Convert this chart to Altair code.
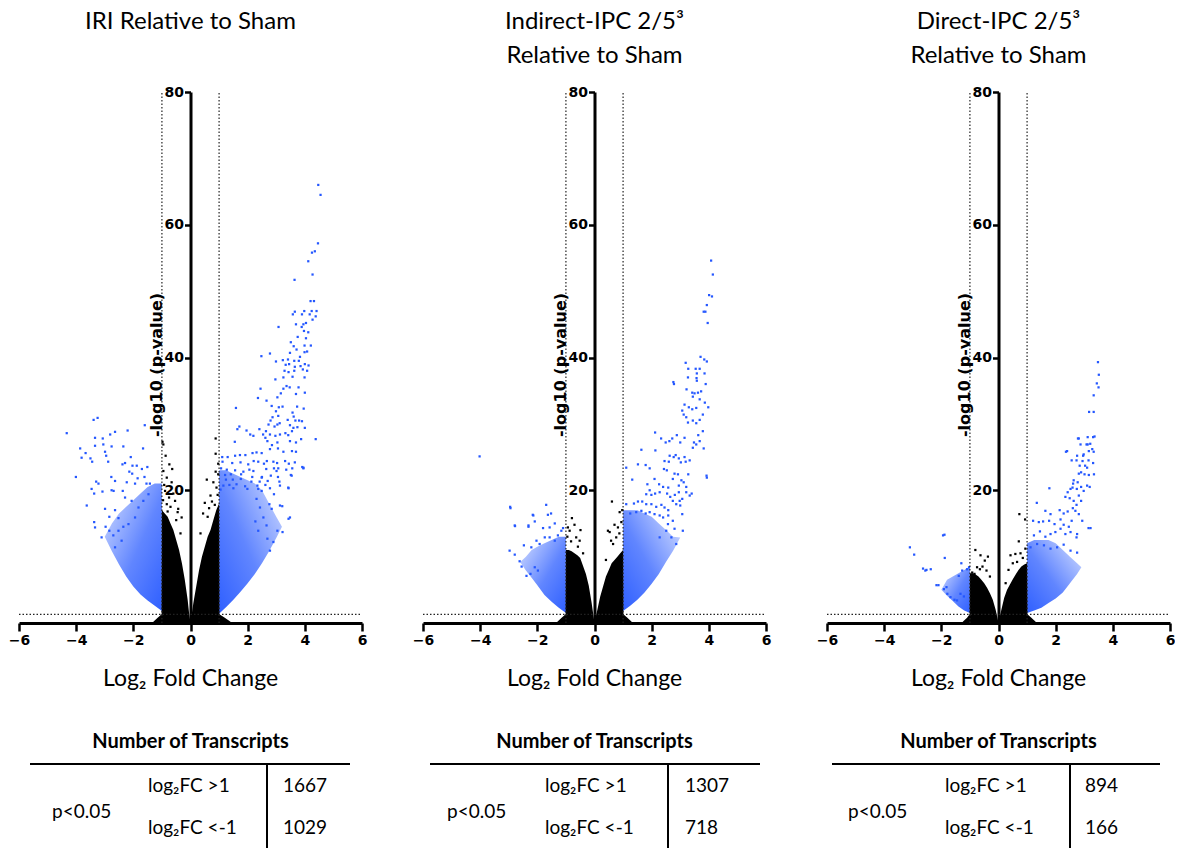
import altair as alt
import pandas as pd

BLUE = "#2457ff"
FONT = "Lato"
TICKFONT = "DejaVu Sans"

titles = [["IRI Relative to Sham"],
          ["Indirect-IPC 2/5\u00b3", "Relative to Sham"],
          ["Direct-IPC 2/5\u00b3", "Relative to Sham"]]
up_counts = ["1667", "1307", "894"]
down_counts = ["1029", "718", "166"]
x_ticks = [-6, -4, -2, 0, 2, 4, 6]
y_ticks = [20, 40, 60, 80]
fc_cut = [-1, 1]
p_cut = 1.3

# ---------------- Panel 1 : IRI ----------------
p1_core_l_x = [-1.3, -1.15, -1.01, -1.0, -0.9, -0.8, -0.7, -0.6, -0.5, -0.4, -0.3, -0.2, -0.1, -0.05, 0.0]
p1_core_l_y = [0.2, 0.8, 1.3, 17, 16.5, 16, 15, 14, 12.5, 11, 9, 6.5, 3.5, 1.5, 0]
p1_core_r_x = [0.0, 0.05, 0.1, 0.2, 0.3, 0.4, 0.5, 0.6, 0.7, 0.8, 0.9, 1.0, 1.01, 1.2, 1.4]
p1_core_r_y = [0, 1.5, 3, 5.5, 8, 10, 11.5, 13, 14, 15.5, 17, 18, 1.3, 0.8, 0.2]
p1_band_r_x = [1.0, 1.25, 1.5, 1.75, 2.0, 2.25, 2.5, 2.75, 3.0, 3.2]
p1_band_r_lo = [1.4, 2.4, 3.5, 4.7, 6.0, 7.4, 9.0, 10.8, 12.8, 14.5]
p1_band_r_hi = [23, 23, 22.5, 22, 21.5, 21, 20, 18, 16, 14.5]
p1_band_l_x = [-3.0, -2.75, -2.5, -2.25, -2.0, -1.75, -1.5, -1.25, -1.0]
p1_band_l_lo = [13, 10.8, 8.8, 7.0, 5.5, 4.3, 3.4, 2.6, 1.8]
p1_band_l_hi = [13, 15, 16.5, 17.5, 18.5, 19.5, 20.5, 21, 21]
p1_blue_x = [4.47, 4.55, 4.46, 4.35, 4.25, 4.12, 4.27, 3.64, 4.20, 4.32, 3.58, 3.65, 3.98, 4.24, 4.41, 3.90, 4.17, 4.38,
             4.27, 3.69, 4.04, 3.95, 3.08, 3.89, 3.97, 4.12, 3.75, 4.04, 3.51, 3.61, 3.99, 4.21, 3.71, 2.78, 3.48, 3.83,
             3.99, 4.08, 2.48, 2.99, 3.23, 3.41, 3.63, 3.79, 3.33, 3.45, 3.65, 3.85, 4.0, 4.13, 3.29, 3.43, 3.63, 3.93,
             4.08, 3.25, 3.57, 3.99, 2.97, 3.36, 3.47, 3.78, 2.45, 3.25, 3.69, 4.0, 2.36, 2.66, 3.04, 3.16, 2.84, 3.09,
             3.22, 1.59, 3.73, 3.96, 2.99, 3.07, 3.57, 3.61, 2.87, 2.80, 2.73, 3.12, 3.40, 3.67, 3.80, 3.90, 2.94, 3.04,
             3.48, 3.60, 3.74, 1.71, 1.64, 1.96, 2.09, 2.41, 2.20, 2.64, 1.55, 4.0, 4.38, 2.54, 2.62, 2.78, 2.97, 3.13,
             3.32, 3.42, 3.55, 2.69, 2.85, 3.04, 3.48, 3.69, 3.87,
             1.11, 1.30, 1.56, 1.73, 1.92, 2.17, 2.31, 2.49, 2.78, 3.06, 3.25, 3.55, 3.69,
             1.12, 1.46, 1.75, 2.02, 2.21, 2.37, 2.57, 2.67, 2.90, 3.03, 3.31, 3.44, 3.65,
             1.07, 1.27, 1.56, 1.85, 2.06, 2.20, 2.65, 2.92, 3.07, 3.35, 3.56, 3.95,
             1.21, 1.41, 1.77, 2.16, 2.50, 2.81, 3.06, 3.51,
             1.24, 1.48, 1.76, 2.13, 2.42, 2.70, 3.11,
             1.15, 1.36, 1.61, 1.91, 2.34, 2.62, 3.13, 3.43,
             1.05, 1.50, 1.99, 2.37, 2.78,
             3.48, 3.22, 3.04, 2.90, 3.13, 3.42, 3.54, 2.78, 2.69, 2.43, 2.49, 3.01, 2.66, 2.37, 2.55, 2.27, 2.84, 2.76,
             2.92, 2.49, 2.31, 3.43, 3.21, 3.91, 3.95,
             -3.39, -3.25, -4.33, -1.60, -2.64, -2.81, -2.20, -3.34, -3.07, -3.86, -3.67, -3.81, -3.50, -3.44, -2.76,
             -2.35, -1.66, -3.34, -3.05, -2.99, -2.95, -2.88, -2.09, -2.38, -2.29, -2.03, -1.88, -1.70, -1.51, -4.01,
             -3.30, -3.22, -3.08, -3.46, -3.37, -2.77, -2.64, -2.76, -2.69, -2.37, -2.14, -2.04, -1.85, -2.23, -1.94,
             -1.61, -1.54, -1.42, -3.63, -3.37, -3.34, -2.97, -3.11, -2.84, -2.70, -2.99, -2.84, -2.64, -2.52, -2.35,
             -2.29, -2.06, -1.82, -1.65, -1.47, -1.94, -2.17, -2.52, -2.41, -2.64]
p1_blue_y = [66.0, 64.5, 57.2, 56.0, 55.8, 54.5, 52.5, 51.7, 48.5, 48.5, 46.5, 46.9, 47.0, 47.0, 47.0, 46.5, 46.5, 46.2,
             45.7, 45.0, 45.2, 45.0, 44.6, 44.6, 44.0, 43.8, 43.1, 42.9, 42.3, 41.7, 41.8, 41.8, 41.2, 40.6, 40.7, 40.1,
             40.8, 40.9, 40.2, 39.4, 39.6, 39.7, 39.5, 39.5, 38.9, 39.0, 38.6, 38.7, 39.0, 38.8, 38.0, 37.8, 38.0, 38.2,
             38.0, 37.0, 37.1, 37.0, 36.7, 35.7, 35.5, 35.5, 35.3, 35.3, 34.5, 34.7, 33.9, 33.5, 34.0, 34.6, 32.7, 32.5,
             32.6, 32.4, 32.6, 32.3, 31.9, 31.2, 31.7, 31.1, 31.0, 30.5, 29.9, 30.1, 30.6, 30.5, 30.5, 30.4, 29.6, 29.9,
             29.8, 29.4, 29.5, 29.6, 29.2, 29.0, 28.4, 29.2, 28.2, 28.9, 27.3, 29.4, 27.7, 28.4, 27.9, 28.4, 28.2, 28.4,
             28.6, 28.3, 28.9, 27.4, 26.8, 27.2, 27.4, 27.2, 27.7,
             25.0, 25.0, 25.2, 25.3, 25.3, 25.6, 25.7, 25.6, 26.2, 26.3, 25.8, 25.9, 25.8,
             24.3, 24.1, 24.2, 23.9, 24.4, 24.3, 24.0, 24.4, 24.3, 24.1, 24.4, 24.0, 24.2,
             23.3, 23.1, 23.0, 22.8, 23.1, 22.9, 23.2, 23.3, 23.3, 23.1, 23.3, 23.3,
             22.3, 22.4, 22.4, 22.0, 22.0, 22.2, 22.0, 22.3,
             21.6, 21.6, 21.7, 21.3, 21.3, 21.4, 21.3,
             20.7, 20.8, 20.9, 20.6, 20.7, 20.8, 20.7, 20.3,
             20.1, 20.3, 20.2, 20.2, 20.3,
             15.9, 13.7, 13.9, 12.2, 17.7, 20.4, 22.2, 10.9, 12.7, 17.4, 21.9, 22.9, 14.7, 13.9, 15.9, 15.3, 17.2, 17.9,
             19.4, 19.9, 18.7, 15.7, 17.6, 23.5, 23.4,
             30.6, 30.9, 28.6, 29.8, 28.8, 28.4, 29.0, 27.9, 27.8, 26.3, 25.6, 24.9, 24.8, 24.3, 26.6,
             26.6, 26.3, 26.7, 26.9, 25.8, 25.2, 24.3, 25.0, 23.9, 24.1, 23.7, 23.7, 23.2, 23.5, 22.0,
             21.3, 21.0, 19.8, 20.2, 19.5, 22.0, 21.4, 20.0, 19.9, 19.9, 22.8, 22.5, 21.8, 21.2, 21.0,
             22.0, 21.0, 21.0, 17.7, 15.2, 14.4, 14.5, 12.9, 13.9, 13.2, 17.2, 16.0, 17.0, 15.8, 14.5,
             18.9, 18.4, 17.4, 18.4, 19.4, 15.9, 14.9, 13.9, 12.4, 11.4]
p1_black_x = [-0.98, -0.95, -0.87, -0.74, -0.64, -0.95, -0.83, -0.66, -0.89, -0.54, -0.75, -0.43, -0.83, -0.31, -0.45,
              -0.60, -0.92, -0.70, -0.50, -0.35, -0.96, -0.80,
              0.88, 0.88, 0.88, 0.57, 0.97, 0.80, 0.91, 0.70, 0.50, 0.65, 0.44, 0.95, 0.60, 0.35, 0.75, 0.85, 0.97]
p1_black_y = [27.3, 26.9, 25.2, 23.9, 23.2, 22.9, 21.9, 21.2, 19.9, 18.4, 18.9, 17.2, 17.9, 15.9, 16.7,
              19.5, 20.8, 17.5, 15.5, 13.5, 18.5, 16.8,
              27.8, 25.5, 22.8, 21.6, 22.4, 21.2, 20.4, 19.2, 18.1, 17.3, 16.5, 19.3, 16.0, 13.5, 18.3, 17.8, 24.0]

# ---------------- Panel 2 : Indirect-IPC ----------------
p2_core_l_x = [-1.3, -1.15, -1.01, -1.0, -0.9, -0.8, -0.7, -0.6, -0.5, -0.4, -0.3, -0.2, -0.1, -0.05, 0.0]
p2_core_l_y = [0.2, 0.8, 1.3, 11, 11, 10.8, 10.5, 10.2, 9.8, 8.6, 7.4, 5.6, 3, 1.5, 0]
p2_core_r_x = [0.0, 0.05, 0.1, 0.2, 0.3, 0.4, 0.5, 0.6, 0.7, 0.8, 0.9, 1.0, 1.01, 1.15, 1.3]
p2_core_r_y = [0, 1, 2, 4, 5.5, 7, 8, 9, 9.5, 10, 10.5, 11, 1.3, 0.8, 0.2]
p2_band_r_x = [1.0, 1.25, 1.5, 1.75, 2.0, 2.25, 2.5, 2.75, 3.0]
p2_band_r_lo = [1.8, 2.6, 3.5, 4.6, 5.9, 7.4, 9.2, 10.9, 12.9]
p2_band_r_hi = [17, 17, 17, 16.5, 16, 15, 14, 13, 12.9]
p2_band_l_x = [-2.6, -2.4, -2.2, -2.0, -1.75, -1.5, -1.25, -1.0]
p2_band_l_lo = [9.2, 7.9, 6.8, 5.7, 4.2, 3.2, 2.3, 1.5]
p2_band_l_hi = [9.2, 10, 11, 11.5, 12, 12.5, 13, 13]
p2_blue_x = [4.08, 4.14, 4.01, 4.11, 3.93, 3.82, 3.88, 3.96, 2.76, 3.92,
             3.71, 3.84, 3.93, 3.19, 3.28, 3.54, 3.68, 3.58, 3.85, 3.57, 3.58, 3.27, 2.78, 3.89, 3.22, 3.42, 3.50, 3.62,
             3.73, 3.44, 3.68, 3.86, 3.98, 3.15, 3.30, 3.42, 3.56, 3.07, 3.12, 3.21, 3.27, 3.44, 3.56, 3.68, 3.79, 3.79,
             3.63, 3.48, 3.56, 3.68, 3.44, 2.12, 2.33, 2.49, 2.62, 2.72, 2.88, 3.00, 3.15, 2.13, 1.64, 3.82, 2.63, 2.77,
             2.84, 2.95, 3.15, 2.45, 2.60, 3.02, 3.19, 3.33, 1.11, 1.52, 1.79, 1.93, 2.43, 2.53, 1.32, 3.93,
             2.10, 2.26, 2.40, 2.58, 2.74, 2.80, 2.92, 3.04, 2.95, 3.12, 3.21, 3.28,
             1.85, 1.93, 1.81, 1.99, 2.12, 2.28, 2.54, 2.65, 2.74, 2.81, 2.95, 2.98, 3.07, 3.21, 3.33, 3.40,
             1.38, 1.52, 1.67, 1.81, 1.99, 2.16, 2.34, 2.45, 2.58, 2.86, 3.00,
             1.11, 1.25, 1.46, 1.64, 1.79, 1.93, 2.10, 2.28, 2.40, 2.58, 2.74, 3.07, 3.09,
             2.51, 2.69, 2.86, 2.28, 2.57, 2.80,
             -4.02, -2.95, -1.69, -2.79, -2.16, -2.31, -2.97, -2.79, -1.52, -1.63, -2.94, -2.14, -2.78, -2.31, -2.09,
             -1.80, -1.57, -1.39, -1.16, -1.10, -2.62, -2.55, -2.47, -2.21, -2.03, -1.92, -1.74, -1.57, -1.39, -1.28,
             -2.38, -2.24, -2.09, -1.98]
p2_blue_y = [54.6, 52.5, 49.4, 49.2, 47.9, 46.9, 46.9, 45.2, 36.3, 22.2,
             40.1, 39.7, 39.4, 39.2, 38.3, 38.3, 38.3, 37.6, 37.6, 36.9, 36.5, 37.0, 36.0, 36.0, 35.2, 34.7, 34.6, 34.7,
             34.9, 34.1, 33.7, 33.2, 32.5, 32.9, 32.5, 32.2, 32.4, 32.0, 31.4, 31.0, 30.2, 30.5, 30.1, 30.6, 31.4, 28.9,
             28.3, 27.2, 26.9, 27.4, 26.4, 28.7, 27.8, 27.2, 27.4, 27.8, 28.3, 27.2, 27.9, 26.0, 26.1, 26.3, 25.2, 25.0,
             25.3, 24.8, 25.0, 24.4, 24.3, 24.2, 24.3, 24.5, 23.4, 23.9, 23.8, 23.3, 23.2, 23.0, 21.6, 21.9,
             21.7, 20.9, 20.5, 20.4, 21.7, 22.5, 22.4, 21.5, 20.7, 21.2, 20.5, 22.4,
             20.9, 20.0, 19.4, 19.3, 19.5, 19.7, 19.5, 19.0, 18.4, 19.3, 19.7, 18.4, 18.7, 19.7, 19.2, 19.5,
             18.0, 18.3, 18.3, 17.9, 17.9, 17.5, 17.8, 17.4, 17.0, 17.9, 17.7,
             17.9, 16.5, 16.7, 16.9, 16.5, 16.7, 16.4, 16.2, 15.9, 16.2, 15.4, 16.4, 13.9,
             13.9, 12.9, 11.9, 12.9, 14.9, 14.2,
             25.1, 17.5, 17.8, 14.7, 16.3, 14.7, 10.9, 10.3, 16.5, 16.3, 17.3, 16.2, 14.6, 14.5, 15.3,
             14.3, 14.4, 15.0, 13.9, 14.3, 9.3, 8.5, 11.7, 11.4, 12.4, 11.9, 12.9, 12.9, 12.4, 13.2,
             7.1, 7.4, 8.4, 7.9]
p2_black_x = [0.61, 0.88, 0.47, 0.82, 0.58, 0.87, 0.94, 0.76, 0.65, 0.53, 0.40, 0.97, 0.70,
              -0.79, -0.49, -0.93, -0.87, -0.64, -0.52, -0.70, -0.95, -0.40, -0.58, -0.82]
p2_black_y = [18.3, 16.7, 13.9, 14.4, 12.4, 13.5, 15.2, 12.9, 11.9, 13.7, 9.5, 17.0, 14.8,
              15.8, 14.0, 14.4, 13.9, 12.9, 12.4, 14.8, 13.0, 10.5, 11.5, 12.3]

# ---------------- Panel 3 : Direct-IPC ----------------
p3_core_l_x = [-1.25, -1.1, -1.01, -1.0, -0.9, -0.8, -0.7, -0.6, -0.5, -0.4, -0.3, -0.2, -0.1, -0.05, 0.0]
p3_core_l_y = [0.2, 0.8, 1.3, 7.5, 7.5, 7.3, 7, 6.5, 6, 5.3, 4.5, 3.5, 2, 1, 0]
p3_core_r_x = [0.0, 0.05, 0.1, 0.2, 0.3, 0.4, 0.5, 0.6, 0.7, 0.8, 0.9, 1.0, 1.01, 1.15, 1.3]
p3_core_r_y = [0, 1, 2, 3.8, 5, 5.8, 6.6, 7.3, 8, 8.5, 8.8, 9, 1.3, 0.8, 0.2]
p3_band_r_x = [1.0, 1.25, 1.5, 1.75, 2.0, 2.25, 2.5, 2.75, 2.9]
p3_band_r_lo = [1.5, 1.9, 2.3, 3.0, 3.7, 4.6, 6.0, 7.4, 8.4]
p3_band_r_hi = [12, 12.5, 12.5, 12.5, 12, 11, 10, 9, 8.4]
p3_band_l_x = [-2.0, -1.8, -1.6, -1.4, -1.2, -1.0]
p3_band_l_lo = [5.0, 4.1, 3.3, 2.5, 1.9, 1.5]
p3_band_l_hi = [5.0, 6.5, 7.0, 7.5, 8.0, 8.5]
p3_blue_x = [3.48, 3.51, 3.44, 3.50, 3.33, 3.17, 3.33, 3.31, 2.78, 3.12, 2.36, 1.78, 3.15, 1.34,
             3.36, 3.12, 2.81, 2.87, 3.08, 3.21, 3.28, 3.16, 3.33, 2.98, 2.96, 2.75, 2.40, 2.56, 2.73, 2.94, 3.15, 3.31,
             3.03, 2.84, 3.10, 2.89, 3.01, 3.16, 3.34, 2.81,
             2.63, 2.61, 2.77, 2.59, 2.74, 2.89, 2.98, 3.10, 3.19,
             2.42, 2.52, 2.34, 2.49, 2.63, 2.81, 2.89, 2.73,
             1.64, 1.82, 2.14, 2.28, 2.42, 2.60, 2.69, 2.81, 2.93,
             1.21, 1.41, 1.56, 1.77, 1.96, 2.17, 2.28, 2.46, 2.56,
             3.22, 2.75, 2.73, 2.75,
             1.24, 1.45, 1.64, 1.82, 1.99, 2.17, 2.34, 2.52,
             1.12, 1.35, 1.59, 1.82, 2.05, 2.28, 2.52,
             -3.10, -2.95, -1.94, -1.88, -2.64, -2.56, -2.37, -2.17, -1.82, -1.30, -1.89, -2.52,
             -1.39, -1.27, -1.10, -1.03, -1.79, -1.68, -1.54, -1.45, -1.33, -1.21, -2.10, -1.91]
p3_blue_y = [39.3, 37.4, 36.1, 35.5, 34.3, 31.8, 31.8, 28.0, 27.8, 26.9, 25.8, 20.3, 14.3, 18.1,
             28.1, 28.0, 27.8, 26.9, 26.9, 27.0, 26.2, 25.9, 25.8, 25.4, 25.2, 25.2, 25.9, 24.5, 24.5, 24.4, 24.5, 24.1,
             23.7, 23.7, 23.4, 22.7, 22.4, 22.3, 22.4, 22.5,
             21.5, 21.0, 21.2, 20.4, 20.2, 20.5, 19.9, 20.7, 20.5,
             19.7, 20.2, 19.0, 18.8, 18.4, 19.2, 18.4, 17.8,
             16.9, 16.4, 17.0, 16.5, 16.8, 17.3, 16.9, 16.4, 15.4,
             15.4, 15.2, 15.3, 15.4, 14.9, 15.6, 14.8, 14.5, 15.4,
             14.3, 13.4, 12.9, 10.6,
             13.2, 13.8, 13.0, 13.4, 13.7, 14.2, 13.4, 13.7,
             11.4, 11.9, 11.7, 11.2, 11.4, 11.8, 10.9,
             11.4, 10.3, 13.2, 9.8, 8.2, 7.9, 8.1, 5.7, 5.4, 9.0, 13.3, 8.0,
             7.1, 7.9, 8.1, 8.4, 4.4, 3.9, 3.5, 3.4, 4.4, 4.0, 5.7, 5.1]
p3_black_x = [0.73, 0.71, 0.93, 0.77, 0.42, 0.59, 0.94, 0.50, 0.85, 0.35, 0.65, 0.25,
              -0.81, -0.63, -0.37, -0.48, -0.75, -0.65, -0.56, -0.42, -0.84, -0.92, -0.30]
p3_black_y = [16.4, 12.3, 15.6, 10.5, 10.2, 10.4, 11.2, 9.0, 9.8, 8.0, 9.2, 6.0,
              11.0, 10.2, 10.0, 9.4, 8.4, 8.1, 8.5, 7.9, 7.4, 7.6, 7.0]

panels = [
    dict(core=[(p1_core_l_x, p1_core_l_y), (p1_core_r_x, p1_core_r_y)],
         band=[(p1_band_l_x, p1_band_l_lo, p1_band_l_hi), (p1_band_r_x, p1_band_r_lo, p1_band_r_hi)],
         blue=(p1_blue_x, p1_blue_y), black=(p1_black_x, p1_black_y)),
    dict(core=[(p2_core_l_x, p2_core_l_y), (p2_core_r_x, p2_core_r_y)],
         band=[(p2_band_l_x, p2_band_l_lo, p2_band_l_hi), (p2_band_r_x, p2_band_r_lo, p2_band_r_hi)],
         blue=(p2_blue_x, p2_blue_y), black=(p2_black_x, p2_black_y)),
    dict(core=[(p3_core_l_x, p3_core_l_y), (p3_core_r_x, p3_core_r_y)],
         band=[(p3_band_l_x, p3_band_l_lo, p3_band_l_hi), (p3_band_r_x, p3_band_r_lo, p3_band_r_hi)],
         blue=(p3_blue_x, p3_blue_y), black=(p3_black_x, p3_black_y)),
]

# layout constants (pixels relative to each plot's top-left corner)
W, H = 343, 531
AXIS_X = W / 2
table_layout = [dict(fc=129, num=264, p=33, v=248, h=(11, 331)),
                dict(fc=122, num=262, p=24, v=245, h=(7, 337)),
                dict(fc=118, num=258, p=21, v=243, h=(5, 333))]

ONE = pd.DataFrame({"d": [0]})

x_axis = alt.Axis(values=x_ticks, title=None, grid=False, domainWidth=3, domainColor="black",
                  tickWidth=2.5, tickSize=8, tickColor="black", labelFont=TICKFONT, labelFontSize=14,
                  labelFontWeight="bold", labelColor="black", labelPadding=2, labelFlush=False)
y_axis = alt.Axis(values=y_ticks, title=None, grid=False, offset=-AXIS_X, domainWidth=3,
                  domainColor="black", tickWidth=2.5, tickSize=6, tickColor="black", labelFont=TICKFONT,
                  labelFontSize=14, labelFontWeight="bold", labelColor="black", labelPadding=1)
xs = alt.Scale(domain=[-6, 6], nice=False, zero=False)
ys = alt.Scale(domain=[0, 80], nice=False, zero=False)


def X(f="x"):
    return alt.X(f + ":Q", scale=xs, axis=x_axis)


def Y(f="y"):
    return alt.Y(f + ":Q", scale=ys, axis=y_axis)


def txt(s, px, py, size, weight="normal", align="center", font=FONT, angle=0):
    return alt.Chart(ONE).mark_text(text=s, fontSize=size, fontWeight=weight, align=align,
                                    baseline="middle", font=font, angle=angle, color="black").encode(
        x=alt.value(px), y=alt.value(py))


def band_fill(right):
    stops = [alt.GradientStop(offset=0, color="rgba(36,87,255,0.95)"),
             alt.GradientStop(offset=0.45, color="rgba(36,87,255,0.72)"),
             alt.GradientStop(offset=1, color="rgba(36,87,255,0.18)")]
    if right:
        return alt.Gradient(gradient="linear", stops=stops, x1=0, y1=1, x2=1, y2=0)
    return alt.Gradient(gradient="linear", stops=stops, x1=1, y1=1, x2=0, y2=0)


def build(i):
    P = panels[i]
    L = table_layout[i]
    layers = []
    for side, (xv, lo, hi) in enumerate(P["band"]):
        df = pd.DataFrame({"x": xv, "lo": lo, "hi": hi})
        layers.append(alt.Chart(df).mark_area(color=band_fill(side == 1)).encode(
            x=X(), y=Y("lo"), y2="hi:Q"))
    for (xv, top) in P["core"]:
        df = pd.DataFrame({"x": xv, "top": top, "zero": [0] * len(xv)})
        layers.append(alt.Chart(df).mark_area(color="black", opacity=1).encode(
            x=X(), y=Y("top"), y2="zero:Q"))
    bdf = pd.DataFrame({"x": P["blue"][0], "y": P["blue"][1]})
    layers.append(alt.Chart(bdf).mark_square(size=5, color=BLUE, opacity=1).encode(x=X(), y=Y()))
    kdf = pd.DataFrame({"x": P["black"][0], "y": P["black"][1]})
    layers.append(alt.Chart(kdf).mark_square(size=5, color="black", opacity=1).encode(x=X(), y=Y()))
    # threshold lines
    vdf = pd.DataFrame({"x": fc_cut, "y": [0, 0], "y2": [80, 80]})
    layers.append(alt.Chart(vdf).mark_rule(color="#222222", strokeWidth=1.2, strokeDash=[1.5, 2]).encode(
        x=X(), y=Y(), y2="y2:Q"))
    hdf = pd.DataFrame({"x": [-6], "x2": [6], "y": [p_cut]})
    layers.append(alt.Chart(hdf).mark_rule(color="#222222", strokeWidth=1.2, strokeDash=[1.5, 2]).encode(
        x=X(), x2="x2:Q", y=Y()))
    # titles
    t = titles[i]
    layers.append(txt(t[0], AXIS_X, -70, 24))
    if len(t) > 1:
        layers.append(txt(t[1], AXIS_X, -36, 24))
    # y-axis title
    layers.append(txt("-log10 (p-value)", AXIS_X - 34, 273, 16, weight="bold", font=TICKFONT, angle=270))
    # x-axis title
    layers.append(txt("Log\u2082 Fold Change", AXIS_X, 587, 23))
    # table
    layers.append(txt("Number of Transcripts", AXIS_X, 650, 20, weight="bold"))
    layers.append(alt.Chart(ONE).mark_rule(color="black", strokeWidth=2).encode(
        x=alt.value(L["h"][0]), x2=alt.value(L["h"][1]), y=alt.value(672)))
    layers.append(alt.Chart(ONE).mark_rule(color="black", strokeWidth=2).encode(
        x=alt.value(L["v"]), y=alt.value(672), y2=alt.value(760)))
    layers.append(txt("log\u2082FC >1", L["fc"], 694, 19, align="left"))
    layers.append(txt("log\u2082FC <-1", L["fc"], 736, 19, align="left"))
    layers.append(txt("p<0.05", L["p"], 720, 19, align="left"))
    layers.append(txt(up_counts[i], L["num"], 694, 19, align="left"))
    layers.append(txt(down_counts[i], L["num"], 736, 19, align="left"))
    if i == 0:
        layers.append(alt.Chart(ONE).mark_rule(strokeOpacity=0, color="white").encode(
            x=alt.value(-19), x2=alt.value(-12), y=alt.value(-92)))
    return alt.layer(*layers).properties(width=W, height=H)


chart = alt.hconcat(build(0), build(1), build(2), spacing=61, bounds="flush").properties(
    padding=0, background="white"
).configure_view(stroke=None)

chart.save("out.html", embed_options={"renderer": "svg", "actions": False})
